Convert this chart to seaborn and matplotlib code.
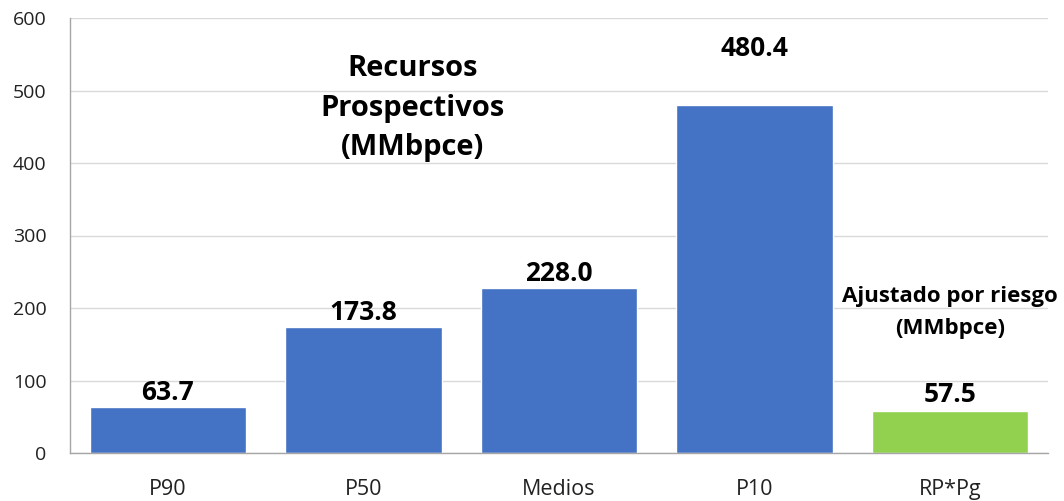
import matplotlib
matplotlib.use("Agg")
import matplotlib.pyplot as plt
import seaborn as sns
import pandas as pd

categories = ["P90", "P50", "Medios", "P10", "RP*Pg"]
values = [63.7, 173.8, 228.0, 480.4, 57.5]
bar_colors = ["#4472C4", "#4472C4", "#4472C4", "#4472C4", "#92D050"]
label_offsets = [0.5, 0.5, 0.5, 31, 2.5]
y_ticks = [0, 100, 200, 300, 400, 500, 600]
title_main = "Recursos\nProspectivos\n(MMbpce)"
title_risk = "Ajustado por riesgo\n(MMbpce)"

sns.set_theme(style="white")
plt.rcParams['font.family'] = ['Open Sans', 'DejaVu Sans']

df = pd.DataFrame({"cat": categories, "val": values})

fig = plt.figure(figsize=(10.64, 5.01), dpi=100)
ax = fig.add_axes([70/1064, 48/501, (1048-70)/1064, (453-18)/501])

sns.barplot(data=df, x="cat", y="val", hue="cat", palette=bar_colors,
            order=categories, hue_order=categories, legend=False,
            width=0.8, ax=ax, saturation=1)

ax.set_ylim(0, 600)
ax.set_xlim(-0.5, 4.5)
ax.set_yticks(y_ticks)
ax.set_yticklabels([str(t) for t in y_ticks], fontsize=14, color="#222222")
ax.tick_params(axis="y", length=6, color="#a6a6a6", width=1, pad=11)
ax.tick_params(axis="x", length=0, pad=18.5, labelsize=15.5, labelcolor="#222222")
ax.set_xlabel("")
ax.set_ylabel("")
ax.yaxis.grid(True, color="#d9d9d9", linewidth=1)
ax.set_axisbelow(True)
for s in ["top", "right"]:
    ax.spines[s].set_visible(False)
for s in ["left", "bottom"]:
    ax.spines[s].set_color("#a6a6a6")
    ax.spines[s].set_linewidth(1)

for i, v in enumerate(values):
    ax.annotate(f"{v:.1f}", (i, v), xytext=(0, label_offsets[i]), textcoords="offset points",
                ha="center", va="bottom", fontsize=19, fontweight="bold", color="black")

ax.text(1.25, 550, title_main, ha="center", va="top", fontsize=21,
        fontweight="bold", linespacing=1.48, color="black")
ax.text(4.0, 230, title_risk, ha="center", va="top", fontsize=16,
        fontweight="bold", linespacing=1.7, color="black")

fig.savefig("out.png", dpi=100)
